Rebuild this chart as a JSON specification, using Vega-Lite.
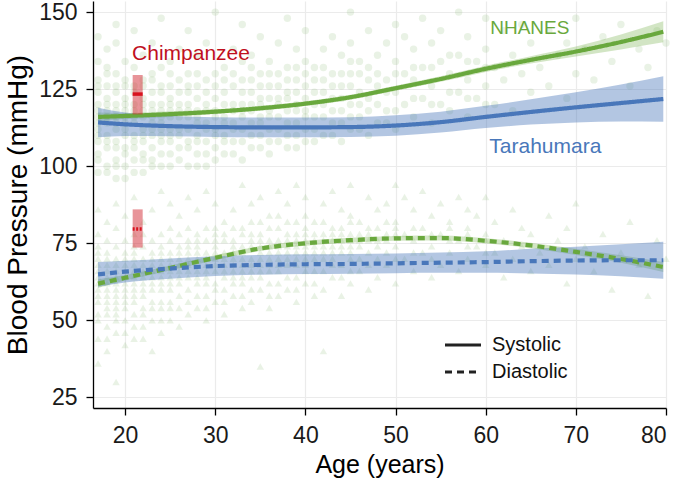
{
"$schema":"https://vega.github.io/schema/vega-lite/v6.json",
"width":573,"height":407,
"autosize":{"type":"none"},
"padding":{"left":93,"top":1,"right":11,"bottom":73},
"config":{"view":{"stroke":null},"font":"Liberation Sans",
"axis":{"domainColor":"#000","domainWidth":1.3,"tickColor":"#000","tickWidth":1.3,"tickSize":7,"gridColor":"#ebebeb","gridWidth":1.2,"labelColor":"#1a1a1a","labelFontSize":23,"titleColor":"#000","titleFontWeight":"normal","labelFont":"Liberation Sans","titleFont":"Liberation Sans"}},
"datasets":{
"pts":[
{"age":17,"bp":98,"kind":"sys"},{"age":17,"bp":104,"kind":"sys"},{"age":17,"bp":108,"kind":"sys"},{"age":17,"bp":112,"kind":"sys"},{"age":17,"bp":116,"kind":"sys"},{"age":17,"bp":120,"kind":"sys"},{"age":17,"bp":124,"kind":"sys"},{"age":17,"bp":128,"kind":"sys"},{"age":17,"bp":134,"kind":"sys"},{"age":17,"bp":142,"kind":"sys"},
{"age":18,"bp":100,"kind":"sys"},{"age":18,"bp":106,"kind":"sys"},{"age":18,"bp":110,"kind":"sys"},{"age":18,"bp":114,"kind":"sys"},{"age":18,"bp":118,"kind":"sys"},{"age":18,"bp":122,"kind":"sys"},{"age":18,"bp":126,"kind":"sys"},{"age":18,"bp":132,"kind":"sys"},{"age":18,"bp":138,"kind":"sys"},
{"age":19,"bp":96,"kind":"sys"},{"age":19,"bp":102,"kind":"sys"},{"age":19,"bp":108,"kind":"sys"},{"age":19,"bp":112,"kind":"sys"},{"age":19,"bp":116,"kind":"sys"},{"age":19,"bp":120,"kind":"sys"},{"age":19,"bp":124,"kind":"sys"},{"age":19,"bp":130,"kind":"sys"},{"age":19,"bp":140,"kind":"sys"},{"age":19,"bp":146,"kind":"sys"},
{"age":20,"bp":100,"kind":"sys"},{"age":20,"bp":104,"kind":"sys"},{"age":20,"bp":110,"kind":"sys"},{"age":20,"bp":114,"kind":"sys"},{"age":20,"bp":118,"kind":"sys"},{"age":20,"bp":122,"kind":"sys"},{"age":20,"bp":128,"kind":"sys"},{"age":20,"bp":134,"kind":"sys"},
{"age":21,"bp":98,"kind":"sys"},{"age":21,"bp":106,"kind":"sys"},{"age":21,"bp":110,"kind":"sys"},{"age":21,"bp":116,"kind":"sys"},{"age":21,"bp":120,"kind":"sys"},{"age":21,"bp":126,"kind":"sys"},{"age":21,"bp":132,"kind":"sys"},{"age":21,"bp":144,"kind":"sys"},
{"age":22,"bp":102,"kind":"sys"},{"age":22,"bp":108,"kind":"sys"},{"age":22,"bp":112,"kind":"sys"},{"age":22,"bp":118,"kind":"sys"},{"age":22,"bp":122,"kind":"sys"},{"age":22,"bp":128,"kind":"sys"},{"age":22,"bp":136,"kind":"sys"},
{"age":23,"bp":100,"kind":"sys"},{"age":23,"bp":106,"kind":"sys"},{"age":23,"bp":112,"kind":"sys"},{"age":23,"bp":116,"kind":"sys"},{"age":23,"bp":120,"kind":"sys"},{"age":23,"bp":124,"kind":"sys"},{"age":23,"bp":130,"kind":"sys"},{"age":23,"bp":140,"kind":"sys"},
{"age":24,"bp":104,"kind":"sys"},{"age":24,"bp":110,"kind":"sys"},{"age":24,"bp":114,"kind":"sys"},{"age":24,"bp":118,"kind":"sys"},{"age":24,"bp":124,"kind":"sys"},{"age":24,"bp":132,"kind":"sys"},{"age":24,"bp":148,"kind":"sys"},
{"age":25,"bp":100,"kind":"sys"},{"age":25,"bp":108,"kind":"sys"},{"age":25,"bp":112,"kind":"sys"},{"age":25,"bp":118,"kind":"sys"},{"age":25,"bp":122,"kind":"sys"},{"age":25,"bp":126,"kind":"sys"},{"age":25,"bp":134,"kind":"sys"},
{"age":26,"bp":102,"kind":"sys"},{"age":26,"bp":110,"kind":"sys"},{"age":26,"bp":116,"kind":"sys"},{"age":26,"bp":120,"kind":"sys"},{"age":26,"bp":128,"kind":"sys"},{"age":26,"bp":138,"kind":"sys"},
{"age":27,"bp":106,"kind":"sys"},{"age":27,"bp":112,"kind":"sys"},{"age":27,"bp":118,"kind":"sys"},{"age":27,"bp":124,"kind":"sys"},{"age":27,"bp":130,"kind":"sys"},{"age":27,"bp":144,"kind":"sys"},
{"age":28,"bp":104,"kind":"sys"},{"age":28,"bp":110,"kind":"sys"},{"age":28,"bp":116,"kind":"sys"},{"age":28,"bp":122,"kind":"sys"},{"age":28,"bp":126,"kind":"sys"},{"age":28,"bp":136,"kind":"sys"},
{"age":29,"bp":100,"kind":"sys"},{"age":29,"bp":108,"kind":"sys"},{"age":29,"bp":114,"kind":"sys"},{"age":29,"bp":120,"kind":"sys"},{"age":29,"bp":128,"kind":"sys"},{"age":29,"bp":140,"kind":"sys"},
{"age":30,"bp":106,"kind":"sys"},{"age":30,"bp":112,"kind":"sys"},{"age":30,"bp":118,"kind":"sys"},{"age":30,"bp":122,"kind":"sys"},{"age":30,"bp":130,"kind":"sys"},{"age":30,"bp":150,"kind":"sys"},
{"age":31,"bp":104,"kind":"sys"},{"age":31,"bp":110,"kind":"sys"},{"age":31,"bp":116,"kind":"sys"},{"age":31,"bp":124,"kind":"sys"},{"age":31,"bp":132,"kind":"sys"},
{"age":32,"bp":108,"kind":"sys"},{"age":32,"bp":114,"kind":"sys"},{"age":32,"bp":120,"kind":"sys"},{"age":32,"bp":126,"kind":"sys"},{"age":32,"bp":138,"kind":"sys"},
{"age":33,"bp":102,"kind":"sys"},{"age":33,"bp":112,"kind":"sys"},{"age":33,"bp":118,"kind":"sys"},{"age":33,"bp":124,"kind":"sys"},{"age":33,"bp":134,"kind":"sys"},{"age":33,"bp":146,"kind":"sys"},
{"age":34,"bp":106,"kind":"sys"},{"age":34,"bp":114,"kind":"sys"},{"age":34,"bp":120,"kind":"sys"},{"age":34,"bp":128,"kind":"sys"},{"age":34,"bp":136,"kind":"sys"},
{"age":35,"bp":110,"kind":"sys"},{"age":35,"bp":116,"kind":"sys"},{"age":35,"bp":122,"kind":"sys"},{"age":35,"bp":130,"kind":"sys"},{"age":35,"bp":142,"kind":"sys"},
{"age":36,"bp":104,"kind":"sys"},{"age":36,"bp":112,"kind":"sys"},{"age":36,"bp":118,"kind":"sys"},{"age":36,"bp":126,"kind":"sys"},{"age":36,"bp":134,"kind":"sys"},
{"age":37,"bp":108,"kind":"sys"},{"age":37,"bp":116,"kind":"sys"},{"age":37,"bp":122,"kind":"sys"},{"age":37,"bp":130,"kind":"sys"},{"age":37,"bp":140,"kind":"sys"},
{"age":38,"bp":110,"kind":"sys"},{"age":38,"bp":118,"kind":"sys"},{"age":38,"bp":124,"kind":"sys"},{"age":38,"bp":132,"kind":"sys"},{"age":38,"bp":148,"kind":"sys"},
{"age":39,"bp":106,"kind":"sys"},{"age":39,"bp":114,"kind":"sys"},{"age":39,"bp":120,"kind":"sys"},{"age":39,"bp":128,"kind":"sys"},{"age":39,"bp":138,"kind":"sys"},
{"age":40,"bp":112,"kind":"sys"},{"age":40,"bp":118,"kind":"sys"},{"age":40,"bp":126,"kind":"sys"},{"age":40,"bp":134,"kind":"sys"},{"age":40,"bp":144,"kind":"sys"},
{"age":41,"bp":108,"kind":"sys"},{"age":41,"bp":116,"kind":"sys"},{"age":41,"bp":124,"kind":"sys"},{"age":41,"bp":132,"kind":"sys"},
{"age":42,"bp":110,"kind":"sys"},{"age":42,"bp":120,"kind":"sys"},{"age":42,"bp":128,"kind":"sys"},{"age":42,"bp":138,"kind":"sys"},
{"age":43,"bp":114,"kind":"sys"},{"age":43,"bp":122,"kind":"sys"},{"age":43,"bp":130,"kind":"sys"},{"age":43,"bp":142,"kind":"sys"},
{"age":44,"bp":108,"kind":"sys"},{"age":44,"bp":118,"kind":"sys"},{"age":44,"bp":126,"kind":"sys"},{"age":44,"bp":136,"kind":"sys"},
{"age":45,"bp":112,"kind":"sys"},{"age":45,"bp":120,"kind":"sys"},{"age":45,"bp":130,"kind":"sys"},{"age":45,"bp":140,"kind":"sys"},{"age":45,"bp":150,"kind":"sys"},
{"age":46,"bp":116,"kind":"sys"},{"age":46,"bp":124,"kind":"sys"},{"age":46,"bp":134,"kind":"sys"},
{"age":47,"bp":110,"kind":"sys"},{"age":47,"bp":122,"kind":"sys"},{"age":47,"bp":132,"kind":"sys"},{"age":47,"bp":144,"kind":"sys"},
{"age":48,"bp":114,"kind":"sys"},{"age":48,"bp":126,"kind":"sys"},{"age":48,"bp":136,"kind":"sys"},
{"age":49,"bp":118,"kind":"sys"},{"age":49,"bp":128,"kind":"sys"},{"age":49,"bp":140,"kind":"sys"},
{"age":50,"bp":112,"kind":"sys"},{"age":50,"bp":124,"kind":"sys"},{"age":50,"bp":134,"kind":"sys"},{"age":50,"bp":146,"kind":"sys"},
{"age":51,"bp":120,"kind":"sys"},{"age":51,"bp":130,"kind":"sys"},{"age":51,"bp":142,"kind":"sys"},
{"age":52,"bp":116,"kind":"sys"},{"age":52,"bp":128,"kind":"sys"},{"age":52,"bp":138,"kind":"sys"},
{"age":53,"bp":122,"kind":"sys"},{"age":53,"bp":132,"kind":"sys"},{"age":53,"bp":148,"kind":"sys"},
{"age":54,"bp":114,"kind":"sys"},{"age":54,"bp":126,"kind":"sys"},{"age":54,"bp":140,"kind":"sys"},
{"age":55,"bp":120,"kind":"sys"},{"age":55,"bp":134,"kind":"sys"},{"age":55,"bp":144,"kind":"sys"},
{"age":56,"bp":118,"kind":"sys"},{"age":56,"bp":130,"kind":"sys"},
{"age":57,"bp":124,"kind":"sys"},{"age":57,"bp":136,"kind":"sys"},{"age":57,"bp":150,"kind":"sys"},
{"age":58,"bp":116,"kind":"sys"},{"age":58,"bp":128,"kind":"sys"},{"age":58,"bp":142,"kind":"sys"},
{"age":59,"bp":122,"kind":"sys"},{"age":59,"bp":134,"kind":"sys"},
{"age":60,"bp":126,"kind":"sys"},{"age":60,"bp":138,"kind":"sys"},{"age":60,"bp":148,"kind":"sys"},
{"age":61,"bp":120,"kind":"sys"},{"age":61,"bp":132,"kind":"sys"},
{"age":62,"bp":128,"kind":"sys"},{"age":62,"bp":144,"kind":"sys"},
{"age":63,"bp":118,"kind":"sys"},{"age":63,"bp":136,"kind":"sys"},
{"age":64,"bp":130,"kind":"sys"},{"age":64,"bp":146,"kind":"sys"},
{"age":65,"bp":124,"kind":"sys"},{"age":65,"bp":140,"kind":"sys"},
{"age":66,"bp":132,"kind":"sys"},
{"age":67,"bp":126,"kind":"sys"},{"age":67,"bp":144,"kind":"sys"},
{"age":68,"bp":136,"kind":"sys"},
{"age":69,"bp":122,"kind":"sys"},{"age":69,"bp":140,"kind":"sys"},
{"age":70,"bp":130,"kind":"sys"},{"age":70,"bp":148,"kind":"sys"},
{"age":71,"bp":138,"kind":"sys"},{"age":72,"bp":128,"kind":"sys"},{"age":73,"bp":142,"kind":"sys"},{"age":74,"bp":134,"kind":"sys"},{"age":75,"bp":146,"kind":"sys"},{"age":76,"bp":126,"kind":"sys"},{"age":77,"bp":138,"kind":"sys"},{"age":78,"bp":132,"kind":"sys"},{"age":79,"bp":144,"kind":"sys"},{"age":80,"bp":140,"kind":"sys"},
{"age":17,"bp":102,"kind":"sys"},{"age":17,"bp":110,"kind":"sys"},{"age":17,"bp":118,"kind":"sys"},{"age":17,"bp":126,"kind":"sys"},{"age":17,"bp":114,"kind":"sys"},
{"age":18,"bp":98,"kind":"sys"},{"age":18,"bp":108,"kind":"sys"},{"age":18,"bp":116,"kind":"sys"},{"age":18,"bp":120,"kind":"sys"},{"age":18,"bp":130,"kind":"sys"},
{"age":19,"bp":100,"kind":"sys"},{"age":19,"bp":106,"kind":"sys"},{"age":19,"bp":114,"kind":"sys"},{"age":19,"bp":118,"kind":"sys"},{"age":19,"bp":126,"kind":"sys"},
{"age":20,"bp":96,"kind":"sys"},{"age":20,"bp":106,"kind":"sys"},{"age":20,"bp":112,"kind":"sys"},{"age":20,"bp":116,"kind":"sys"},{"age":20,"bp":120,"kind":"sys"},{"age":20,"bp":126,"kind":"sys"},
{"age":21,"bp":102,"kind":"sys"},{"age":21,"bp":108,"kind":"sys"},{"age":21,"bp":114,"kind":"sys"},{"age":21,"bp":118,"kind":"sys"},{"age":21,"bp":124,"kind":"sys"},
{"age":22,"bp":98,"kind":"sys"},{"age":22,"bp":104,"kind":"sys"},{"age":22,"bp":110,"kind":"sys"},{"age":22,"bp":116,"kind":"sys"},{"age":22,"bp":120,"kind":"sys"},{"age":22,"bp":126,"kind":"sys"},
{"age":23,"bp":102,"kind":"sys"},{"age":23,"bp":110,"kind":"sys"},{"age":23,"bp":114,"kind":"sys"},{"age":23,"bp":118,"kind":"sys"},{"age":23,"bp":128,"kind":"sys"},
{"age":24,"bp":100,"kind":"sys"},{"age":24,"bp":108,"kind":"sys"},{"age":24,"bp":112,"kind":"sys"},{"age":24,"bp":116,"kind":"sys"},{"age":24,"bp":120,"kind":"sys"},{"age":24,"bp":126,"kind":"sys"},
{"age":25,"bp":104,"kind":"sys"},{"age":25,"bp":110,"kind":"sys"},{"age":25,"bp":116,"kind":"sys"},{"age":25,"bp":120,"kind":"sys"},{"age":25,"bp":130,"kind":"sys"},
{"age":26,"bp":106,"kind":"sys"},{"age":26,"bp":112,"kind":"sys"},{"age":26,"bp":118,"kind":"sys"},{"age":26,"bp":124,"kind":"sys"},
{"age":27,"bp":100,"kind":"sys"},{"age":27,"bp":108,"kind":"sys"},{"age":27,"bp":116,"kind":"sys"},{"age":27,"bp":120,"kind":"sys"},{"age":27,"bp":126,"kind":"sys"},
{"age":28,"bp":100,"kind":"sys"},{"age":28,"bp":108,"kind":"sys"},{"age":28,"bp":114,"kind":"sys"},{"age":28,"bp":118,"kind":"sys"},{"age":28,"bp":130,"kind":"sys"},
{"age":29,"bp":104,"kind":"sys"},{"age":29,"bp":112,"kind":"sys"},{"age":29,"bp":118,"kind":"sys"},{"age":29,"bp":124,"kind":"sys"},
{"age":30,"bp":102,"kind":"sys"},{"age":30,"bp":110,"kind":"sys"},{"age":30,"bp":116,"kind":"sys"},{"age":30,"bp":126,"kind":"sys"},
{"age":31,"bp":108,"kind":"sys"},{"age":31,"bp":114,"kind":"sys"},{"age":31,"bp":120,"kind":"sys"},{"age":31,"bp":128,"kind":"sys"},
{"age":32,"bp":104,"kind":"sys"},{"age":32,"bp":112,"kind":"sys"},{"age":32,"bp":118,"kind":"sys"},{"age":32,"bp":130,"kind":"sys"},
{"age":33,"bp":108,"kind":"sys"},{"age":33,"bp":116,"kind":"sys"},{"age":33,"bp":120,"kind":"sys"},{"age":33,"bp":128,"kind":"sys"},
{"age":34,"bp":110,"kind":"sys"},{"age":34,"bp":118,"kind":"sys"},{"age":34,"bp":124,"kind":"sys"},{"age":34,"bp":132,"kind":"sys"},
{"age":35,"bp":106,"kind":"sys"},{"age":35,"bp":114,"kind":"sys"},{"age":35,"bp":120,"kind":"sys"},{"age":35,"bp":126,"kind":"sys"},
{"age":36,"bp":108,"kind":"sys"},{"age":36,"bp":116,"kind":"sys"},{"age":36,"bp":122,"kind":"sys"},{"age":36,"bp":130,"kind":"sys"},
{"age":37,"bp":112,"kind":"sys"},{"age":37,"bp":120,"kind":"sys"},{"age":37,"bp":126,"kind":"sys"},
{"age":38,"bp":106,"kind":"sys"},{"age":38,"bp":114,"kind":"sys"},{"age":38,"bp":122,"kind":"sys"},{"age":38,"bp":128,"kind":"sys"},
{"age":39,"bp":110,"kind":"sys"},{"age":39,"bp":118,"kind":"sys"},{"age":39,"bp":124,"kind":"sys"},{"age":39,"bp":132,"kind":"sys"},
{"age":40,"bp":108,"kind":"sys"},{"age":40,"bp":116,"kind":"sys"},{"age":40,"bp":122,"kind":"sys"},{"age":40,"bp":130,"kind":"sys"},
{"age":41,"bp":112,"kind":"sys"},{"age":41,"bp":120,"kind":"sys"},{"age":41,"bp":128,"kind":"sys"},
{"age":42,"bp":116,"kind":"sys"},{"age":42,"bp":124,"kind":"sys"},{"age":42,"bp":132,"kind":"sys"},
{"age":43,"bp":110,"kind":"sys"},{"age":43,"bp":118,"kind":"sys"},{"age":43,"bp":126,"kind":"sys"},
{"age":44,"bp":114,"kind":"sys"},{"age":44,"bp":122,"kind":"sys"},{"age":44,"bp":130,"kind":"sys"},
{"age":45,"bp":116,"kind":"sys"},{"age":45,"bp":126,"kind":"sys"},{"age":45,"bp":134,"kind":"sys"},
{"age":46,"bp":112,"kind":"sys"},{"age":46,"bp":120,"kind":"sys"},{"age":46,"bp":130,"kind":"sys"},
{"age":47,"bp":118,"kind":"sys"},{"age":47,"bp":128,"kind":"sys"},
{"age":48,"bp":120,"kind":"sys"},{"age":48,"bp":130,"kind":"sys"},
{"age":49,"bp":114,"kind":"sys"},{"age":49,"bp":124,"kind":"sys"},
{"age":50,"bp":118,"kind":"sys"},{"age":50,"bp":130,"kind":"sys"},
{"age":52,"bp":122,"kind":"sys"},{"age":52,"bp":132,"kind":"sys"},
{"age":54,"bp":120,"kind":"sys"},{"age":54,"bp":132,"kind":"sys"},
{"age":56,"bp":124,"kind":"sys"},{"age":56,"bp":136,"kind":"sys"},
{"age":58,"bp":122,"kind":"sys"},{"age":58,"bp":134,"kind":"sys"},
{"age":60,"bp":120,"kind":"sys"},{"age":60,"bp":132,"kind":"sys"},
{"age":17,"bp":36,"kind":"dia"},{"age":17,"bp":44,"kind":"dia"},{"age":17,"bp":50,"kind":"dia"},{"age":17,"bp":56,"kind":"dia"},{"age":17,"bp":60,"kind":"dia"},{"age":17,"bp":64,"kind":"dia"},{"age":17,"bp":68,"kind":"dia"},{"age":17,"bp":72,"kind":"dia"},{"age":17,"bp":78,"kind":"dia"},{"age":17,"bp":86,"kind":"dia"},
{"age":18,"bp":40,"kind":"dia"},{"age":18,"bp":48,"kind":"dia"},{"age":18,"bp":54,"kind":"dia"},{"age":18,"bp":58,"kind":"dia"},{"age":18,"bp":62,"kind":"dia"},{"age":18,"bp":66,"kind":"dia"},{"age":18,"bp":70,"kind":"dia"},{"age":18,"bp":76,"kind":"dia"},{"age":18,"bp":82,"kind":"dia"},
{"age":19,"bp":30,"kind":"dia"},{"age":19,"bp":46,"kind":"dia"},{"age":19,"bp":52,"kind":"dia"},{"age":19,"bp":56,"kind":"dia"},{"age":19,"bp":60,"kind":"dia"},{"age":19,"bp":64,"kind":"dia"},{"age":19,"bp":68,"kind":"dia"},{"age":19,"bp":74,"kind":"dia"},{"age":19,"bp":80,"kind":"dia"},{"age":19,"bp":88,"kind":"dia"},
{"age":20,"bp":42,"kind":"dia"},{"age":20,"bp":50,"kind":"dia"},{"age":20,"bp":56,"kind":"dia"},{"age":20,"bp":60,"kind":"dia"},{"age":20,"bp":64,"kind":"dia"},{"age":20,"bp":70,"kind":"dia"},{"age":20,"bp":76,"kind":"dia"},{"age":20,"bp":84,"kind":"dia"},
{"age":21,"bp":44,"kind":"dia"},{"age":21,"bp":52,"kind":"dia"},{"age":21,"bp":58,"kind":"dia"},{"age":21,"bp":62,"kind":"dia"},{"age":21,"bp":66,"kind":"dia"},{"age":21,"bp":72,"kind":"dia"},{"age":21,"bp":78,"kind":"dia"},{"age":21,"bp":90,"kind":"dia"},
{"age":22,"bp":48,"kind":"dia"},{"age":22,"bp":54,"kind":"dia"},{"age":22,"bp":60,"kind":"dia"},{"age":22,"bp":64,"kind":"dia"},{"age":22,"bp":68,"kind":"dia"},{"age":22,"bp":74,"kind":"dia"},{"age":22,"bp":82,"kind":"dia"},
{"age":23,"bp":40,"kind":"dia"},{"age":23,"bp":50,"kind":"dia"},{"age":23,"bp":56,"kind":"dia"},{"age":23,"bp":62,"kind":"dia"},{"age":23,"bp":66,"kind":"dia"},{"age":23,"bp":70,"kind":"dia"},{"age":23,"bp":76,"kind":"dia"},{"age":23,"bp":86,"kind":"dia"},
{"age":24,"bp":46,"kind":"dia"},{"age":24,"bp":54,"kind":"dia"},{"age":24,"bp":60,"kind":"dia"},{"age":24,"bp":64,"kind":"dia"},{"age":24,"bp":70,"kind":"dia"},{"age":24,"bp":78,"kind":"dia"},{"age":24,"bp":92,"kind":"dia"},
{"age":25,"bp":50,"kind":"dia"},{"age":25,"bp":56,"kind":"dia"},{"age":25,"bp":62,"kind":"dia"},{"age":25,"bp":66,"kind":"dia"},{"age":25,"bp":72,"kind":"dia"},{"age":25,"bp":80,"kind":"dia"},{"age":25,"bp":88,"kind":"dia"},
{"age":26,"bp":48,"kind":"dia"},{"age":26,"bp":58,"kind":"dia"},{"age":26,"bp":64,"kind":"dia"},{"age":26,"bp":68,"kind":"dia"},{"age":26,"bp":74,"kind":"dia"},{"age":26,"bp":84,"kind":"dia"},
{"age":27,"bp":52,"kind":"dia"},{"age":27,"bp":60,"kind":"dia"},{"age":27,"bp":66,"kind":"dia"},{"age":27,"bp":70,"kind":"dia"},{"age":27,"bp":76,"kind":"dia"},{"age":27,"bp":90,"kind":"dia"},
{"age":28,"bp":54,"kind":"dia"},{"age":28,"bp":62,"kind":"dia"},{"age":28,"bp":66,"kind":"dia"},{"age":28,"bp":72,"kind":"dia"},{"age":28,"bp":78,"kind":"dia"},{"age":28,"bp":86,"kind":"dia"},
{"age":29,"bp":50,"kind":"dia"},{"age":29,"bp":58,"kind":"dia"},{"age":29,"bp":64,"kind":"dia"},{"age":29,"bp":70,"kind":"dia"},{"age":29,"bp":76,"kind":"dia"},{"age":29,"bp":92,"kind":"dia"},
{"age":30,"bp":56,"kind":"dia"},{"age":30,"bp":62,"kind":"dia"},{"age":30,"bp":68,"kind":"dia"},{"age":30,"bp":74,"kind":"dia"},{"age":30,"bp":80,"kind":"dia"},{"age":30,"bp":88,"kind":"dia"},
{"age":31,"bp":52,"kind":"dia"},{"age":31,"bp":60,"kind":"dia"},{"age":31,"bp":66,"kind":"dia"},{"age":31,"bp":72,"kind":"dia"},{"age":31,"bp":82,"kind":"dia"},
{"age":32,"bp":58,"kind":"dia"},{"age":32,"bp":64,"kind":"dia"},{"age":32,"bp":70,"kind":"dia"},{"age":32,"bp":76,"kind":"dia"},{"age":32,"bp":86,"kind":"dia"},
{"age":33,"bp":54,"kind":"dia"},{"age":33,"bp":62,"kind":"dia"},{"age":33,"bp":68,"kind":"dia"},{"age":33,"bp":74,"kind":"dia"},{"age":33,"bp":80,"kind":"dia"},{"age":33,"bp":94,"kind":"dia"},
{"age":34,"bp":56,"kind":"dia"},{"age":34,"bp":64,"kind":"dia"},{"age":34,"bp":70,"kind":"dia"},{"age":34,"bp":78,"kind":"dia"},{"age":34,"bp":88,"kind":"dia"},
{"age":35,"bp":35,"kind":"dia"},{"age":35,"bp":60,"kind":"dia"},{"age":35,"bp":66,"kind":"dia"},{"age":35,"bp":72,"kind":"dia"},{"age":35,"bp":78,"kind":"dia"},{"age":35,"bp":90,"kind":"dia"},
{"age":36,"bp":54,"kind":"dia"},{"age":36,"bp":62,"kind":"dia"},{"age":36,"bp":70,"kind":"dia"},{"age":36,"bp":76,"kind":"dia"},{"age":36,"bp":84,"kind":"dia"},
{"age":37,"bp":58,"kind":"dia"},{"age":37,"bp":66,"kind":"dia"},{"age":37,"bp":72,"kind":"dia"},{"age":37,"bp":80,"kind":"dia"},{"age":37,"bp":92,"kind":"dia"},
{"age":38,"bp":60,"kind":"dia"},{"age":38,"bp":68,"kind":"dia"},{"age":38,"bp":74,"kind":"dia"},{"age":38,"bp":82,"kind":"dia"},{"age":38,"bp":88,"kind":"dia"},
{"age":39,"bp":56,"kind":"dia"},{"age":39,"bp":64,"kind":"dia"},{"age":39,"bp":72,"kind":"dia"},{"age":39,"bp":78,"kind":"dia"},{"age":39,"bp":94,"kind":"dia"},
{"age":40,"bp":62,"kind":"dia"},{"age":40,"bp":70,"kind":"dia"},{"age":40,"bp":76,"kind":"dia"},{"age":40,"bp":84,"kind":"dia"},{"age":40,"bp":90,"kind":"dia"},
{"age":41,"bp":58,"kind":"dia"},{"age":41,"bp":66,"kind":"dia"},{"age":41,"bp":74,"kind":"dia"},{"age":41,"bp":82,"kind":"dia"},
{"age":42,"bp":40,"kind":"dia"},{"age":42,"bp":60,"kind":"dia"},{"age":42,"bp":70,"kind":"dia"},{"age":42,"bp":78,"kind":"dia"},{"age":42,"bp":88,"kind":"dia"},
{"age":43,"bp":64,"kind":"dia"},{"age":43,"bp":72,"kind":"dia"},{"age":43,"bp":80,"kind":"dia"},{"age":43,"bp":92,"kind":"dia"},
{"age":44,"bp":58,"kind":"dia"},{"age":44,"bp":68,"kind":"dia"},{"age":44,"bp":76,"kind":"dia"},{"age":44,"bp":86,"kind":"dia"},
{"age":45,"bp":62,"kind":"dia"},{"age":45,"bp":70,"kind":"dia"},{"age":45,"bp":78,"kind":"dia"},{"age":45,"bp":84,"kind":"dia"},{"age":45,"bp":94,"kind":"dia"},
{"age":46,"bp":66,"kind":"dia"},{"age":46,"bp":74,"kind":"dia"},{"age":46,"bp":82,"kind":"dia"},
{"age":47,"bp":60,"kind":"dia"},{"age":47,"bp":72,"kind":"dia"},{"age":47,"bp":80,"kind":"dia"},{"age":47,"bp":90,"kind":"dia"},
{"age":48,"bp":64,"kind":"dia"},{"age":48,"bp":76,"kind":"dia"},{"age":48,"bp":86,"kind":"dia"},
{"age":49,"bp":68,"kind":"dia"},{"age":49,"bp":78,"kind":"dia"},{"age":49,"bp":88,"kind":"dia"},
{"age":50,"bp":62,"kind":"dia"},{"age":50,"bp":74,"kind":"dia"},{"age":50,"bp":82,"kind":"dia"},{"age":50,"bp":94,"kind":"dia"},
{"age":51,"bp":70,"kind":"dia"},{"age":51,"bp":78,"kind":"dia"},{"age":51,"bp":90,"kind":"dia"},
{"age":52,"bp":66,"kind":"dia"},{"age":52,"bp":76,"kind":"dia"},{"age":52,"bp":86,"kind":"dia"},
{"age":53,"bp":72,"kind":"dia"},{"age":53,"bp":80,"kind":"dia"},{"age":53,"bp":92,"kind":"dia"},
{"age":54,"bp":64,"kind":"dia"},{"age":54,"bp":74,"kind":"dia"},{"age":54,"bp":84,"kind":"dia"},
{"age":55,"bp":68,"kind":"dia"},{"age":55,"bp":78,"kind":"dia"},{"age":55,"bp":88,"kind":"dia"},
{"age":56,"bp":72,"kind":"dia"},{"age":56,"bp":82,"kind":"dia"},
{"age":57,"bp":66,"kind":"dia"},{"age":57,"bp":76,"kind":"dia"},{"age":57,"bp":90,"kind":"dia"},
{"age":58,"bp":70,"kind":"dia"},{"age":58,"bp":80,"kind":"dia"},{"age":58,"bp":86,"kind":"dia"},
{"age":59,"bp":74,"kind":"dia"},{"age":59,"bp":84,"kind":"dia"},
{"age":60,"bp":68,"kind":"dia"},{"age":60,"bp":78,"kind":"dia"},{"age":60,"bp":90,"kind":"dia"},
{"age":61,"bp":72,"kind":"dia"},{"age":61,"bp":82,"kind":"dia"},
{"age":62,"bp":64,"kind":"dia"},{"age":62,"bp":76,"kind":"dia"},
{"age":63,"bp":70,"kind":"dia"},{"age":63,"bp":86,"kind":"dia"},
{"age":64,"bp":74,"kind":"dia"},{"age":64,"bp":80,"kind":"dia"},
{"age":65,"bp":66,"kind":"dia"},{"age":65,"bp":78,"kind":"dia"},
{"age":66,"bp":72,"kind":"dia"},
{"age":67,"bp":68,"kind":"dia"},{"age":67,"bp":84,"kind":"dia"},
{"age":68,"bp":76,"kind":"dia"},
{"age":69,"bp":62,"kind":"dia"},{"age":69,"bp":80,"kind":"dia"},
{"age":70,"bp":70,"kind":"dia"},{"age":70,"bp":88,"kind":"dia"},
{"age":71,"bp":74,"kind":"dia"},{"age":72,"bp":66,"kind":"dia"},{"age":73,"bp":78,"kind":"dia"},{"age":74,"bp":60,"kind":"dia"},{"age":75,"bp":72,"kind":"dia"},{"age":76,"bp":82,"kind":"dia"},{"age":77,"bp":68,"kind":"dia"},{"age":78,"bp":58,"kind":"dia"},{"age":79,"bp":76,"kind":"dia"},{"age":80,"bp":70,"kind":"dia"},
{"age":17,"bp":52,"kind":"dia"},{"age":17,"bp":58,"kind":"dia"},{"age":17,"bp":62,"kind":"dia"},{"age":17,"bp":66,"kind":"dia"},{"age":17,"bp":70,"kind":"dia"},{"age":17,"bp":74,"kind":"dia"},
{"age":18,"bp":44,"kind":"dia"},{"age":18,"bp":52,"kind":"dia"},{"age":18,"bp":56,"kind":"dia"},{"age":18,"bp":60,"kind":"dia"},{"age":18,"bp":64,"kind":"dia"},{"age":18,"bp":68,"kind":"dia"},{"age":18,"bp":72,"kind":"dia"},
{"age":19,"bp":50,"kind":"dia"},{"age":19,"bp":54,"kind":"dia"},{"age":19,"bp":58,"kind":"dia"},{"age":19,"bp":62,"kind":"dia"},{"age":19,"bp":66,"kind":"dia"},{"age":19,"bp":70,"kind":"dia"},
{"age":20,"bp":46,"kind":"dia"},{"age":20,"bp":54,"kind":"dia"},{"age":20,"bp":58,"kind":"dia"},{"age":20,"bp":62,"kind":"dia"},{"age":20,"bp":66,"kind":"dia"},{"age":20,"bp":68,"kind":"dia"},{"age":20,"bp":72,"kind":"dia"},
{"age":21,"bp":48,"kind":"dia"},{"age":21,"bp":56,"kind":"dia"},{"age":21,"bp":60,"kind":"dia"},{"age":21,"bp":64,"kind":"dia"},{"age":21,"bp":68,"kind":"dia"},{"age":21,"bp":70,"kind":"dia"},{"age":21,"bp":74,"kind":"dia"},
{"age":22,"bp":44,"kind":"dia"},{"age":22,"bp":52,"kind":"dia"},{"age":22,"bp":58,"kind":"dia"},{"age":22,"bp":62,"kind":"dia"},{"age":22,"bp":66,"kind":"dia"},{"age":22,"bp":70,"kind":"dia"},{"age":22,"bp":78,"kind":"dia"},
{"age":23,"bp":54,"kind":"dia"},{"age":23,"bp":60,"kind":"dia"},{"age":23,"bp":64,"kind":"dia"},{"age":23,"bp":68,"kind":"dia"},{"age":23,"bp":72,"kind":"dia"},
{"age":24,"bp":50,"kind":"dia"},{"age":24,"bp":56,"kind":"dia"},{"age":24,"bp":62,"kind":"dia"},{"age":24,"bp":66,"kind":"dia"},{"age":24,"bp":68,"kind":"dia"},{"age":24,"bp":72,"kind":"dia"},{"age":24,"bp":74,"kind":"dia"},
{"age":25,"bp":54,"kind":"dia"},{"age":25,"bp":60,"kind":"dia"},{"age":25,"bp":64,"kind":"dia"},{"age":25,"bp":68,"kind":"dia"},{"age":25,"bp":70,"kind":"dia"},{"age":25,"bp":76,"kind":"dia"},
{"age":26,"bp":54,"kind":"dia"},{"age":26,"bp":62,"kind":"dia"},{"age":26,"bp":66,"kind":"dia"},{"age":26,"bp":70,"kind":"dia"},{"age":26,"bp":72,"kind":"dia"},{"age":26,"bp":78,"kind":"dia"},
{"age":27,"bp":56,"kind":"dia"},{"age":27,"bp":64,"kind":"dia"},{"age":27,"bp":68,"kind":"dia"},{"age":27,"bp":72,"kind":"dia"},{"age":27,"bp":74,"kind":"dia"},{"age":27,"bp":80,"kind":"dia"},
{"age":28,"bp":58,"kind":"dia"},{"age":28,"bp":64,"kind":"dia"},{"age":28,"bp":70,"kind":"dia"},{"age":28,"bp":74,"kind":"dia"},{"age":28,"bp":76,"kind":"dia"},
{"age":29,"bp":54,"kind":"dia"},{"age":29,"bp":62,"kind":"dia"},{"age":29,"bp":66,"kind":"dia"},{"age":29,"bp":68,"kind":"dia"},{"age":29,"bp":72,"kind":"dia"},{"age":29,"bp":80,"kind":"dia"},
{"age":30,"bp":60,"kind":"dia"},{"age":30,"bp":66,"kind":"dia"},{"age":30,"bp":70,"kind":"dia"},{"age":30,"bp":72,"kind":"dia"},{"age":30,"bp":76,"kind":"dia"},{"age":30,"bp":78,"kind":"dia"},
{"age":31,"bp":56,"kind":"dia"},{"age":31,"bp":64,"kind":"dia"},{"age":31,"bp":68,"kind":"dia"},{"age":31,"bp":70,"kind":"dia"},{"age":31,"bp":76,"kind":"dia"},{"age":31,"bp":78,"kind":"dia"},
{"age":32,"bp":62,"kind":"dia"},{"age":32,"bp":66,"kind":"dia"},{"age":32,"bp":68,"kind":"dia"},{"age":32,"bp":72,"kind":"dia"},{"age":32,"bp":74,"kind":"dia"},{"age":32,"bp":80,"kind":"dia"},
{"age":33,"bp":58,"kind":"dia"},{"age":33,"bp":64,"kind":"dia"},{"age":33,"bp":66,"kind":"dia"},{"age":33,"bp":70,"kind":"dia"},{"age":33,"bp":72,"kind":"dia"},{"age":33,"bp":78,"kind":"dia"},
{"age":34,"bp":60,"kind":"dia"},{"age":34,"bp":66,"kind":"dia"},{"age":34,"bp":68,"kind":"dia"},{"age":34,"bp":74,"kind":"dia"},{"age":34,"bp":76,"kind":"dia"},{"age":34,"bp":82,"kind":"dia"},
{"age":35,"bp":64,"kind":"dia"},{"age":35,"bp":68,"kind":"dia"},{"age":35,"bp":70,"kind":"dia"},{"age":35,"bp":74,"kind":"dia"},{"age":35,"bp":76,"kind":"dia"},{"age":35,"bp":82,"kind":"dia"},
{"age":36,"bp":58,"kind":"dia"},{"age":36,"bp":66,"kind":"dia"},{"age":36,"bp":68,"kind":"dia"},{"age":36,"bp":72,"kind":"dia"},{"age":36,"bp":74,"kind":"dia"},{"age":36,"bp":80,"kind":"dia"},
{"age":37,"bp":62,"kind":"dia"},{"age":37,"bp":68,"kind":"dia"},{"age":37,"bp":70,"kind":"dia"},{"age":37,"bp":74,"kind":"dia"},{"age":37,"bp":76,"kind":"dia"},{"age":37,"bp":84,"kind":"dia"},
{"age":38,"bp":64,"kind":"dia"},{"age":38,"bp":70,"kind":"dia"},{"age":38,"bp":72,"kind":"dia"},{"age":38,"bp":76,"kind":"dia"},{"age":38,"bp":78,"kind":"dia"},
{"age":39,"bp":60,"kind":"dia"},{"age":39,"bp":68,"kind":"dia"},{"age":39,"bp":70,"kind":"dia"},{"age":39,"bp":74,"kind":"dia"},{"age":39,"bp":76,"kind":"dia"},{"age":39,"bp":82,"kind":"dia"},
{"age":40,"bp":66,"kind":"dia"},{"age":40,"bp":68,"kind":"dia"},{"age":40,"bp":72,"kind":"dia"},{"age":40,"bp":74,"kind":"dia"},{"age":40,"bp":78,"kind":"dia"},{"age":40,"bp":80,"kind":"dia"},
{"age":41,"bp":62,"kind":"dia"},{"age":41,"bp":70,"kind":"dia"},{"age":41,"bp":72,"kind":"dia"},{"age":41,"bp":76,"kind":"dia"},{"age":41,"bp":78,"kind":"dia"},
{"age":42,"bp":66,"kind":"dia"},{"age":42,"bp":72,"kind":"dia"},{"age":42,"bp":74,"kind":"dia"},{"age":42,"bp":76,"kind":"dia"},{"age":42,"bp":82,"kind":"dia"},
{"age":43,"bp":68,"kind":"dia"},{"age":43,"bp":70,"kind":"dia"},{"age":43,"bp":74,"kind":"dia"},{"age":43,"bp":76,"kind":"dia"},{"age":43,"bp":78,"kind":"dia"},
{"age":44,"bp":64,"kind":"dia"},{"age":44,"bp":72,"kind":"dia"},{"age":44,"bp":74,"kind":"dia"},{"age":44,"bp":78,"kind":"dia"},{"age":44,"bp":80,"kind":"dia"},
{"age":45,"bp":66,"kind":"dia"},{"age":45,"bp":72,"kind":"dia"},{"age":45,"bp":74,"kind":"dia"},{"age":45,"bp":76,"kind":"dia"},{"age":45,"bp":82,"kind":"dia"},
{"age":46,"bp":70,"kind":"dia"},{"age":46,"bp":76,"kind":"dia"},{"age":46,"bp":78,"kind":"dia"},
{"age":47,"bp":68,"kind":"dia"},{"age":47,"bp":76,"kind":"dia"},{"age":47,"bp":78,"kind":"dia"},
{"age":48,"bp":70,"kind":"dia"},{"age":48,"bp":74,"kind":"dia"},{"age":48,"bp":80,"kind":"dia"},
{"age":49,"bp":72,"kind":"dia"},{"age":49,"bp":76,"kind":"dia"},{"age":49,"bp":82,"kind":"dia"},
{"age":50,"bp":70,"kind":"dia"},{"age":50,"bp":78,"kind":"dia"},{"age":50,"bp":80,"kind":"dia"},
{"age":52,"bp":72,"kind":"dia"},{"age":52,"bp":80,"kind":"dia"},
{"age":54,"bp":70,"kind":"dia"},{"age":54,"bp":78,"kind":"dia"},
{"age":56,"bp":76,"kind":"dia"},{"age":56,"bp":80,"kind":"dia"},
{"age":58,"bp":74,"kind":"dia"},{"age":58,"bp":78,"kind":"dia"},
{"age":60,"bp":72,"kind":"dia"},{"age":60,"bp":76,"kind":"dia"}
],
"curves":[
{"group":"NHANES","type":"Systolic","age":17,"bp":116.0,"lo":114.6,"hi":117.4},
{"group":"NHANES","type":"Systolic","age":20,"bp":116.3,"lo":115.3,"hi":117.3},
{"group":"NHANES","type":"Systolic","age":25,"bp":116.9,"lo":116.0,"hi":117.8},
{"group":"NHANES","type":"Systolic","age":30,"bp":117.7,"lo":116.9,"hi":118.5},
{"group":"NHANES","type":"Systolic","age":35,"bp":118.8,"lo":118.0,"hi":119.6},
{"group":"NHANES","type":"Systolic","age":40,"bp":120.3,"lo":119.5,"hi":121.1},
{"group":"NHANES","type":"Systolic","age":45,"bp":122.4,"lo":121.6,"hi":123.2},
{"group":"NHANES","type":"Systolic","age":50,"bp":125.3,"lo":124.5,"hi":126.1},
{"group":"NHANES","type":"Systolic","age":55,"bp":128.3,"lo":127.4,"hi":129.2},
{"group":"NHANES","type":"Systolic","age":60,"bp":131.6,"lo":130.6,"hi":132.6},
{"group":"NHANES","type":"Systolic","age":65,"bp":134.5,"lo":133.3,"hi":135.7},
{"group":"NHANES","type":"Systolic","age":70,"bp":137.2,"lo":135.6,"hi":138.8},
{"group":"NHANES","type":"Systolic","age":75,"bp":140.3,"lo":137.9,"hi":142.7},
{"group":"NHANES","type":"Systolic","age":79.7,"bp":143.6,"lo":140.2,"hi":147.0},
{"group":"Tarahumara","type":"Systolic","age":17,"bp":114.2,"lo":109.4,"hi":119.0},
{"group":"Tarahumara","type":"Systolic","age":20,"bp":113.6,"lo":109.8,"hi":117.4},
{"group":"Tarahumara","type":"Systolic","age":25,"bp":113.0,"lo":109.7,"hi":116.3},
{"group":"Tarahumara","type":"Systolic","age":30,"bp":112.7,"lo":109.5,"hi":115.9},
{"group":"Tarahumara","type":"Systolic","age":35,"bp":112.6,"lo":109.4,"hi":115.8},
{"group":"Tarahumara","type":"Systolic","age":40,"bp":112.6,"lo":109.4,"hi":115.8},
{"group":"Tarahumara","type":"Systolic","age":45,"bp":112.7,"lo":109.5,"hi":115.9},
{"group":"Tarahumara","type":"Systolic","age":50,"bp":113.2,"lo":109.9,"hi":116.5},
{"group":"Tarahumara","type":"Systolic","age":55,"bp":114.3,"lo":110.9,"hi":117.7},
{"group":"Tarahumara","type":"Systolic","age":60,"bp":116.0,"lo":112.4,"hi":119.6},
{"group":"Tarahumara","type":"Systolic","age":65,"bp":117.6,"lo":113.5,"hi":121.7},
{"group":"Tarahumara","type":"Systolic","age":70,"bp":119.1,"lo":114.2,"hi":124.0},
{"group":"Tarahumara","type":"Systolic","age":75,"bp":120.5,"lo":114.5,"hi":126.5},
{"group":"Tarahumara","type":"Systolic","age":79.7,"bp":121.8,"lo":114.4,"hi":129.2},
{"group":"NHANES","type":"Diastolic","age":17,"bp":61.9,"lo":60.5,"hi":63.3},
{"group":"NHANES","type":"Diastolic","age":20,"bp":63.8,"lo":62.9,"hi":64.7},
{"group":"NHANES","type":"Diastolic","age":25,"bp":67.0,"lo":66.2,"hi":67.8},
{"group":"NHANES","type":"Diastolic","age":30,"bp":70.3,"lo":69.5,"hi":71.1},
{"group":"NHANES","type":"Diastolic","age":35,"bp":73.3,"lo":72.5,"hi":74.1},
{"group":"NHANES","type":"Diastolic","age":40,"bp":75.0,"lo":74.2,"hi":75.8},
{"group":"NHANES","type":"Diastolic","age":45,"bp":76.0,"lo":75.2,"hi":76.8},
{"group":"NHANES","type":"Diastolic","age":50,"bp":76.6,"lo":75.8,"hi":77.4},
{"group":"NHANES","type":"Diastolic","age":55,"bp":76.7,"lo":75.9,"hi":77.5},
{"group":"NHANES","type":"Diastolic","age":60,"bp":75.8,"lo":75.0,"hi":76.6},
{"group":"NHANES","type":"Diastolic","age":65,"bp":74.3,"lo":73.4,"hi":75.2},
{"group":"NHANES","type":"Diastolic","age":70,"bp":72.2,"lo":71.2,"hi":73.2},
{"group":"NHANES","type":"Diastolic","age":75,"bp":69.9,"lo":68.7,"hi":71.1},
{"group":"NHANES","type":"Diastolic","age":79.7,"bp":67.3,"lo":65.7,"hi":68.9},
{"group":"Tarahumara","type":"Diastolic","age":17,"bp":64.9,"lo":60.9,"hi":68.9},
{"group":"Tarahumara","type":"Diastolic","age":20,"bp":65.8,"lo":62.3,"hi":69.3},
{"group":"Tarahumara","type":"Diastolic","age":25,"bp":66.8,"lo":63.5,"hi":70.1},
{"group":"Tarahumara","type":"Diastolic","age":30,"bp":67.6,"lo":64.4,"hi":70.8},
{"group":"Tarahumara","type":"Diastolic","age":35,"bp":68.0,"lo":64.8,"hi":71.2},
{"group":"Tarahumara","type":"Diastolic","age":40,"bp":68.2,"lo":65.0,"hi":71.4},
{"group":"Tarahumara","type":"Diastolic","age":45,"bp":68.3,"lo":65.1,"hi":71.5},
{"group":"Tarahumara","type":"Diastolic","age":50,"bp":68.5,"lo":65.3,"hi":71.7},
{"group":"Tarahumara","type":"Diastolic","age":55,"bp":68.7,"lo":65.4,"hi":72.0},
{"group":"Tarahumara","type":"Diastolic","age":60,"bp":68.9,"lo":65.4,"hi":72.4},
{"group":"Tarahumara","type":"Diastolic","age":65,"bp":69.2,"lo":65.2,"hi":73.2},
{"group":"Tarahumara","type":"Diastolic","age":70,"bp":69.4,"lo":64.9,"hi":73.9},
{"group":"Tarahumara","type":"Diastolic","age":75,"bp":69.5,"lo":64.3,"hi":74.7},
{"group":"Tarahumara","type":"Diastolic","age":79.7,"bp":69.5,"lo":63.5,"hi":75.5}
],
"chimp":[
{"group":"Chimpanzee","type":"Systolic","x0":20.84,"x1":21.95,"lo":116.8,"hi":129.6,"med":123.4},
{"group":"Chimpanzee","type":"Diastolic","x0":20.84,"x1":21.95,"lo":73.6,"hi":86.0,"med":79.6}
],
"labels":[
{"label":"Chimpanzee","group":"Chimpanzee","age":20.77,"bp":134.6},
{"label":"NHANES","group":"NHANES","age":60.5,"bp":142.9},
{"label":"Tarahumara","group":"Tarahumara","age":60.4,"bp":104.2}
]
},
"layer":[
{"data":{"name":"pts"},
 "mark":{"type":"point","filled":true,"size":55,"opacity":0.15,"color":"#6aa84f"},
 "encoding":{
  "x":{"field":"age","type":"quantitative","scale":{"domain":[16.44,80],"nice":false,"zero":false},
       "axis":{"values":[20,30,40,50,60,70,80],"grid":true,"title":"Age (years)","titleFontSize":25,"labelPadding":9,"titlePadding":5}},
  "y":{"field":"bp","type":"quantitative","scale":{"domain":[21.56,153.6],"nice":false,"zero":false},
       "axis":{"values":[25,50,75,100,125,150],"grid":true,"title":"Blood Pressure (mmHg)","titleFontSize":28,"labelPadding":9,"titlePadding":6}},
  "shape":{"field":"kind","type":"nominal","scale":{"domain":["sys","dia"],"range":["circle","triangle-up"]},"legend":null}
 }},
{"data":{"name":"curves"},
 "mark":{"type":"area","interpolate":"monotone"},
 "encoding":{
  "x":{"field":"age","type":"quantitative"},
  "y":{"field":"lo","type":"quantitative"},
  "y2":{"field":"hi"},
  "detail":{"field":"type"},
  "color":{"field":"group","type":"nominal","scale":{"domain":["NHANES","Tarahumara","Chimpanzee"],"range":["#69a83d","#4977ba","#c0101e"]},"legend":null},
  "opacity":{"condition":{"test":"datum.group==='NHANES'","value":0.3},"value":0.42}
 }},
{"data":{"name":"curves"},
 "mark":{"type":"line","interpolate":"monotone","strokeWidth":4.2},
 "encoding":{
  "x":{"field":"age","type":"quantitative"},
  "y":{"field":"bp","type":"quantitative"},
  "color":{"field":"group","type":"nominal","legend":null},
  "detail":{"field":"group"},
  "strokeDash":{"field":"type","type":"nominal","scale":{"domain":["Systolic","Diastolic"],"range":[[1,0],[7,5]]},
    "legend":{"orient":"none","legendX":350,"legendY":333,"title":null,"padding":0,"symbolType":"stroke","symbolSize":1296,"symbolStrokeWidth":3.2,"symbolStrokeColor":"#222","labelFontSize":20,"labelColor":"#111","labelOffset":9,"clipHeight":22,"rowPadding":5}}
 }},
{"data":{"name":"chimp"},
 "mark":{"type":"rect","color":"#d22a34","opacity":0.5},
 "encoding":{
  "x":{"field":"x0","type":"quantitative"},
  "x2":{"field":"x1"},
  "y":{"field":"lo","type":"quantitative"},
  "y2":{"field":"hi"}
 }},
{"data":{"name":"chimp"},
 "transform":[{"filter":"datum.type==='Systolic'"}],
 "mark":{"type":"rule","color":"#d8121e","strokeWidth":3.5},
 "encoding":{
  "x":{"field":"x0","type":"quantitative"},
  "x2":{"field":"x1"},
  "y":{"field":"med","type":"quantitative"}
 }},
{"data":{"name":"chimp"},
 "transform":[{"filter":"datum.type==='Diastolic'"}],
 "mark":{"type":"rule","color":"#d8121e","strokeWidth":3.5,"strokeDash":[2,1.5]},
 "encoding":{
  "x":{"field":"x0","type":"quantitative"},
  "x2":{"field":"x1"},
  "y":{"field":"med","type":"quantitative"}
 }},
{"data":{"name":"labels"},
 "mark":{"type":"text","align":"left","baseline":"alphabetic","font":"Liberation Sans"},
 "encoding":{
  "x":{"field":"age","type":"quantitative"},
  "y":{"field":"bp","type":"quantitative"},
  "text":{"field":"label"},
  "color":{"field":"group","type":"nominal","legend":null},
  "size":{"condition":{"test":"datum.label==='NHANES'","value":19},"value":21}
 }}
]
}
